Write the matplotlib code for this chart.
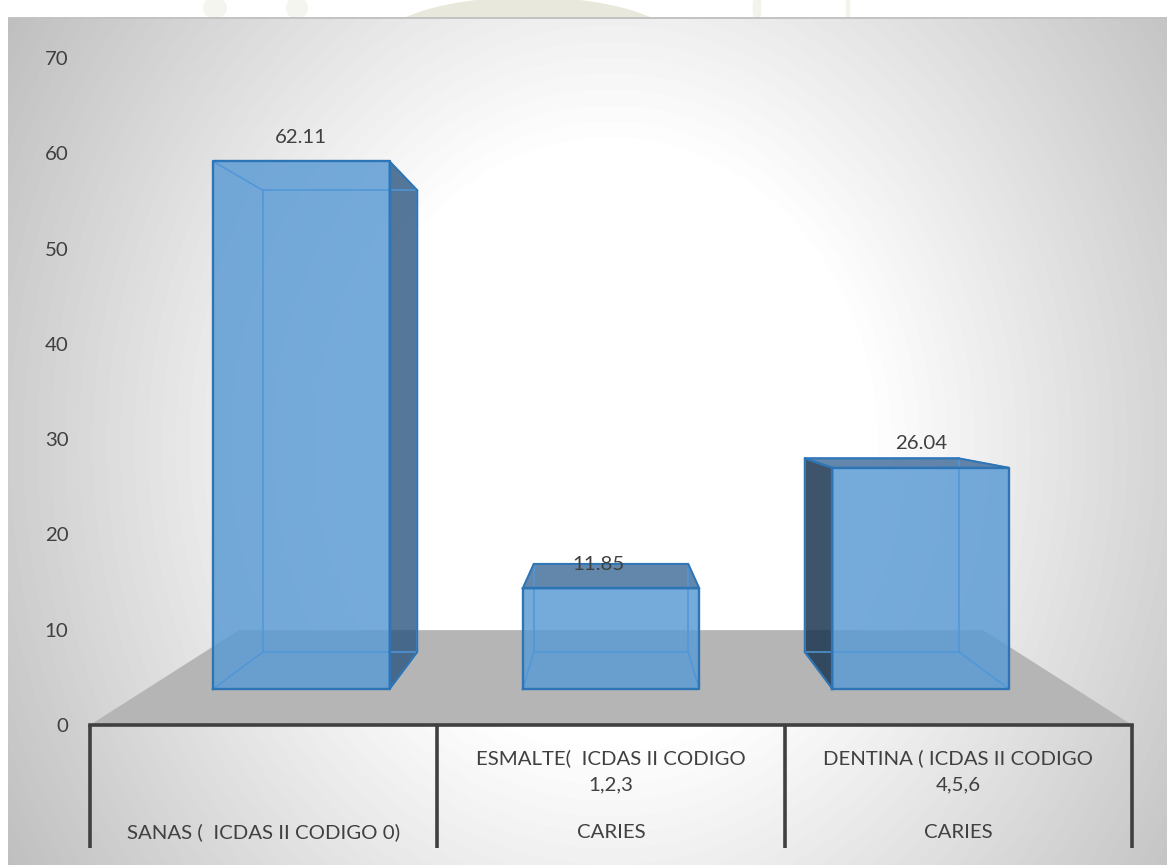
import numpy as np
import matplotlib
matplotlib.use('Agg')
import matplotlib.pyplot as plt
from matplotlib.patches import Ellipse

plt.rcParams['font.family'] = ['Lato', 'DejaVu Sans']

# --- data ---
values = [62.11, 11.85, 26.04]
value_labels = ['62.11', '11.85', '26.04']
yticks = [0, 10, 20, 30, 40, 50, 60, 70]
upper_labels = ['', 'ESMALTE(  ICDAS II CODIGO\n1,2,3', 'DENTINA ( ICDAS II CODIGO\n4,5,6']
lower_labels = ['SANAS (  ICDAS II CODIGO 0)', 'CARIES', 'CARIES']

W, H = 1167, 865
TEXT = '#404040'
BLUE = '#5B9BD5'
EDGE = '#2E75B6'
INNER = '#5096D8'
FS = 14.7

# perspective: depth 0 is the axis plane, depth 1 the back of the floor
VX, VY = 1.5, 34.84
K = 0.4
BAR_W = 0.57
Z_FRONT, Z_BACK = 0.304, 0.705


def proj(x, y, z):
    s = 1 / (1 + K * z)
    return VX + (x - VX) * s, VY + (y - VY) * s


def face(ax, pts, **kw):
    xy = [proj(*p) for p in pts]
    ax.fill([p[0] for p in xy], [p[1] for p in xy], clip_on=False, **kw)


fig = plt.figure(figsize=(W / 100, H / 100), dpi=100)

# faint watermark left over above the chart
wm = fig.add_axes([0, 0, 1, 1], zorder=0)
wm.set_xlim(0, W)
wm.set_ylim(H, 0)
wm.axis('off')
wm.add_patch(Ellipse((528, 45), 300, 96, color='#E8E8DC', lw=0))
wm.add_patch(Ellipse((215, 8), 24, 22, color='#F5F5F0', lw=0))
wm.add_patch(Ellipse((297, 8), 22, 22, color='#F5F5F0', lw=0))
wm.add_patch(Ellipse((757, 8), 9, 30, color='#F3F3EC', lw=0))
wm.add_patch(Ellipse((848, 8), 5, 30, color='#F3F3EC', lw=0))

# background of the chart area
bg = fig.add_axes([8 / W, 0, 1 - 8 / W, 1 - 17 / H], zorder=1)
px, py = np.meshgrid(np.arange(8, W), np.arange(17, H))
r = np.hypot((px - 610) * 1.15, py - 445)
t = np.clip((r - 300) / 520, 0, 1)
grey = 255 - 65 * t
grey[:2, :] = 195
bg.imshow(grey, cmap='gray', vmin=0, vmax=255, aspect='auto')
bg.axis('off')

ax = fig.add_axes([90 / W, (H - 725) / H, (1132 - 90) / W, (725 - 58) / H], zorder=2)
ax.patch.set_alpha(0)
ax.set_xlim(0, 3)
ax.set_ylim(0, 70)

# floor
face(ax, [(0, 0, 0), (3, 0, 0), (3, 0, 1), (0, 0, 1)], color='#B5B5B5', lw=0, zorder=1)

# bars
for i, v in enumerate(values):
    x0, x1 = i + 0.5 - BAR_W / 2, i + 0.5 + BAR_W / 2
    zf, zb = Z_FRONT, Z_BACK
    front = [(x0, 0, zf), (x1, 0, zf), (x1, v, zf), (x0, v, zf)]
    back = [(x0, 0, zb), (x1, 0, zb), (x1, v, zb), (x0, v, zb)]
    left = [(x0, 0, zf), (x0, 0, zb), (x0, v, zb), (x0, v, zf)]
    right = [(x1, 0, zf), (x1, 0, zb), (x1, v, zb), (x1, v, zf)]
    top = [(x0, v, zf), (x1, v, zf), (x1, v, zb), (x0, v, zb)]

    # sides facing the viewer are dark, the others only tint the front
    if x1 < VX:
        face(ax, right, color='#2A5581', alpha=0.8, lw=0, zorder=2)
    if x0 > VX:
        face(ax, left, color='#1C3650', alpha=0.85, lw=0, zorder=2)
    if v <= VY:
        face(ax, top, color='#2F5F8F', alpha=0.75, lw=0, zorder=2)
    face(ax, front, color=BLUE, alpha=0.84, lw=0, zorder=3)

    # inner edges
    for a, b in [(back[0], back[1]), (back[1], back[2]), (back[2], back[3]), (back[3], back[0]),
                 (front[0], back[0]), (front[1], back[1]), (front[2], back[2]), (front[3], back[3])]:
        p, q = proj(*a), proj(*b)
        ax.plot([p[0], q[0]], [p[1], q[1]], color=INNER, lw=1.1, clip_on=False, zorder=4)
    # outline of the near face and the dark side
    xy = [proj(*p) for p in front + front[:1]]
    ax.plot([p[0] for p in xy], [p[1] for p in xy], color=EDGE, lw=1.7, clip_on=False, zorder=5)
    side = right if x1 < VX else left if x0 > VX else None
    if side is not None:
        xy = [proj(*p) for p in side + side[:1]]
        ax.plot([p[0] for p in xy], [p[1] for p in xy], color=EDGE, lw=1.4, clip_on=False, zorder=5)
    if v <= VY:
        xy = [proj(*p) for p in top + top[:1]]
        ax.plot([p[0] for p in xy], [p[1] for p in xy], color=EDGE, lw=1.4, clip_on=False, zorder=5)

    # value label sits above the near top edge
    lx, ly = proj(i + 0.5, v, zf)
    dx = -13 if i == 1 else 0
    ax.annotate(value_labels[i], xy=(lx, ly), xytext=(dx * 0.72, 24 * 0.72), textcoords='offset points',
                ha='center', va='center', fontsize=FS, color=TEXT, zorder=6, annotation_clip=False)

# axes
for s in ['top', 'left', 'right']:
    ax.spines[s].set_visible(False)
ax.spines['bottom'].set_color(TEXT)
ax.spines['bottom'].set_linewidth(2.6)
ax.spines['bottom'].set_zorder(6)
ax.set_yticks(yticks)
ax.tick_params(axis='y', length=0, pad=15.5, labelsize=FS, labelcolor=TEXT)
ax.set_xticks([0, 1, 2, 3])
ax.set_xticklabels([])
ax.tick_params(axis='x', length=88.5, width=2.6, color=TEXT, direction='out')

# category labels
for i in range(3):
    if upper_labels[i]:
        ax.annotate(upper_labels[i], xy=(i + 0.5, 0), xytext=(0, -46.5 * 0.72), textcoords='offset points',
                    ha='center', va='center', fontsize=FS, color=TEXT, linespacing=1.65,
                    annotation_clip=False)
    ax.annotate(lower_labels[i], xy=(i + 0.5, 0), xytext=(0, -107 * 0.72), textcoords='offset points',
                ha='center', va='center', fontsize=FS, color=TEXT, annotation_clip=False)

fig.savefig('out.png', dpi=100)
